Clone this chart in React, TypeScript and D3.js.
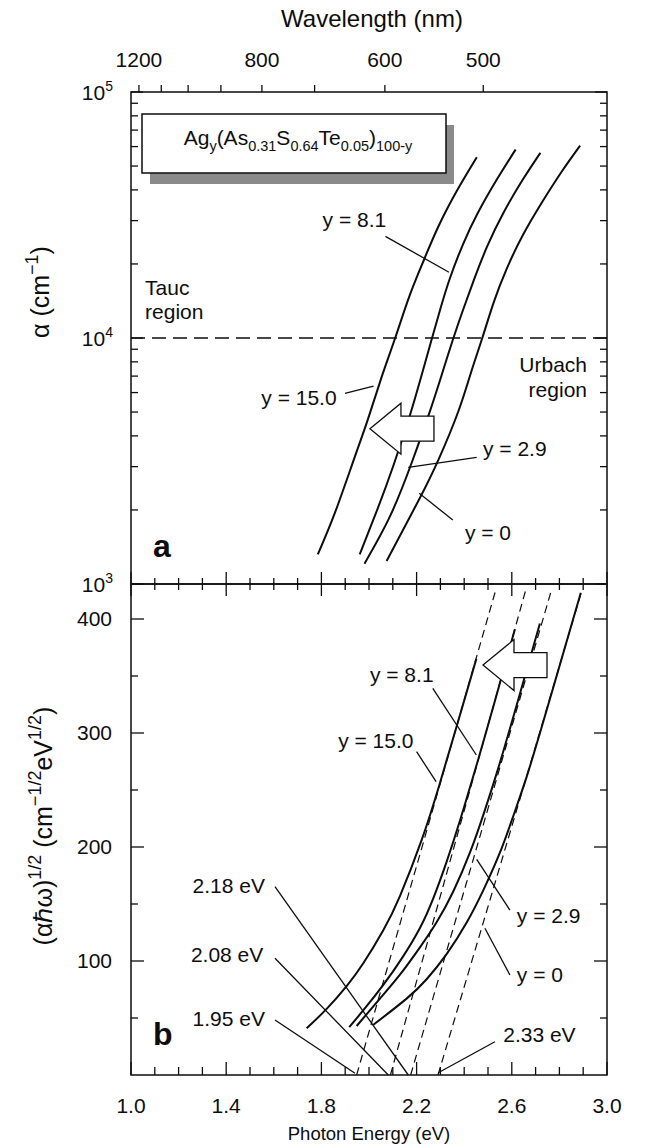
import React from "react";
import * as d3 from "d3";

type Pt = [number, number];

// panel a: absorption coefficient alpha (cm^-1) against photon energy (eV)
const absY150: Pt[] = [[1.785, 1320], [1.857, 1950], [1.937, 3220], [1.996, 4690], [2.055, 7030], [2.110, 10000], [2.171, 14900], [2.232, 20900], [2.293, 28600], [2.374, 40400], [2.453, 54300]];
const absY81: Pt[] = [[1.961, 1320], [2.036, 2020], [2.103, 3040], [2.171, 4820], [2.218, 6890], [2.262, 9770], [2.300, 13150], [2.340, 17500], [2.395, 24040], [2.456, 32060], [2.537, 44060], [2.616, 58340]];
const absY29: Pt[] = [[1.981, 1210], [2.090, 1900], [2.184, 3200], [2.259, 5140], [2.307, 7160], [2.351, 9750], [2.395, 13000], [2.442, 17340], [2.496, 23500], [2.564, 32140], [2.645, 43850], [2.720, 56600]];
const absY0: Pt[] = [[2.074, 1240], [2.212, 2220], [2.293, 3220], [2.374, 4990], [2.429, 7260], [2.476, 10000], [2.524, 13960], [2.578, 19050], [2.645, 26050], [2.727, 35650], [2.808, 47200], [2.887, 60500]];

// panel b: Tauc plot, (alpha*hbar*omega)^1/2 against photon energy
const taucY150: Pt[] = [[1.738, 41], [1.822, 58], [1.906, 78], [1.976, 98], [2.060, 127], [2.130, 157], [2.221, 206], [2.295, 254], [2.370, 307], [2.451, 365]];
const taucY81: Pt[] = [[1.917, 42], [1.985, 59], [2.060, 79], [2.140, 103], [2.214, 129], [2.270, 155], [2.326, 187], [2.382, 223], [2.438, 262], [2.484, 295], [2.553, 346], [2.613, 391]];
const taucY29: Pt[] = [[1.948, 43], [2.046, 67], [2.130, 88], [2.214, 112], [2.284, 134], [2.354, 161], [2.424, 195], [2.480, 228], [2.537, 265], [2.595, 306], [2.650, 346], [2.718, 396]];
const taucY0: Pt[] = [[2.018, 44], [2.158, 67], [2.242, 84], [2.326, 106], [2.411, 134], [2.480, 162], [2.550, 195], [2.606, 227], [2.663, 262], [2.714, 297], [2.773, 339], [2.890, 423]];

// dashed linear fits, starting at the optical gap on the energy axis
const fitY150: Pt[] = [[1.948, 0], [2.532, 425]];
const fitY81: Pt[] = [[2.09, 0], [2.658, 425]];
const fitY29: Pt[] = [[2.175, 0], [2.766, 425]];
const fitY0: Pt[] = [[2.29, 0], [2.89, 422]];

const energyMajor = [1.0, 1.4, 1.8, 2.2, 2.6, 3.0];
const energyMinor = [1.1, 1.2, 1.3, 1.5, 1.6, 1.7, 1.9, 2.0, 2.1, 2.3, 2.4, 2.5, 2.7, 2.8, 2.9];
const wavelengthTicks = [1200, 1100, 1000, 900, 800, 700, 600, 500];
const wavelengthLabels = [1200, 800, 600, 500];
const alphaMajor = [1e3, 1e4, 1e5];
const alphaMinor = [2e3, 3e3, 4e3, 5e3, 6e3, 7e3, 8e3, 9e3, 2e4, 3e4, 4e4, 5e4, 6e4, 7e4, 8e4, 9e4];
const taucMajor = [100, 200, 300, 400];
const taucMinor = [50, 150, 250, 350];

const FONT = "'Liberation Sans', Arial, Helvetica, sans-serif";
const W = 648;
const H = 1148;
const L = 131;
const R = 607;
const TOP = 92;
const MID = 584;
const BOT = 1075;

const x = d3.scaleLinear().domain([1, 3]).range([L, R]);
const yA = d3.scaleLog().domain([1e3, 1e5]).range([MID, TOP]);
const yB = d3.scaleLinear().domain([0, 430.7]).range([BOT, MID]);

const lineA = d3.line<Pt>().x((d) => x(d[0])).y((d) => yA(d[1])).curve(d3.curveNatural);
const lineB = d3.line<Pt>().x((d) => x(d[0])).y((d) => yB(d[1])).curve(d3.curveNatural);
const straightB = d3.line<Pt>().x((d) => x(d[0])).y((d) => yB(d[1]));

// rich text: level 1 = superscript, -1 = subscript
function rich(parts: [string, number][], small: number, up = 9) {
  let cur = 0;
  return parts.map(([s, lvl], i) => {
    const target = lvl === 1 ? -up : lvl === -1 ? 6 : 0;
    const dy = target - cur;
    cur = target;
    return (
      <tspan key={i} dy={dy} fontSize={lvl === 0 ? undefined : small}>
        {s}
      </tspan>
    );
  });
}

// hollow block arrow pointing left, tip at (tx, ty)
function arrow(tx: number, ty: number) {
  const pts = [
    [tx, ty], [tx + 31, ty - 25.5], [tx + 31, ty - 12.5], [tx + 64, ty - 12.5],
    [tx + 64, ty + 12.5], [tx + 31, ty + 12.5], [tx + 31, ty + 25.5],
  ];
  return pts.map((p) => p.join(",")).join(" ");
}

const labelsA = [
  { t: "y = 8.1", e: 1.805, v: 28200, anchor: "start" },
  { t: "y = 15.0", e: 1.864, v: 5340, anchor: "end" },
  { t: "y = 2.9", e: 2.479, v: 3310, anchor: "start" },
  { t: "y = 0", e: 2.403, v: 1510, anchor: "start" },
  { t: "Tauc", e: 1.059, v: 14950, anchor: "start" },
  { t: "region", e: 1.059, v: 11950, anchor: "start" },
  { t: "Urbach", e: 2.916, v: 7260, anchor: "end" },
  { t: "region", e: 2.916, v: 5750, anchor: "end" },
];
const leadersA: Pt[][] = [
  [[2.069, 25900], [2.336, 18500]],
  [[1.899, 5960], [2.019, 6370]],
  [[2.4525, 3270], [2.165, 2980]],
  [[2.352, 1820], [2.211, 2340]],
];
const labelsB = [
  { t: "y = 8.1", e: 2.004, v: 345, anchor: "start" },
  { t: "y = 15.0", e: 2.187, v: 286.6, anchor: "end" },
  { t: "y = 2.9", e: 2.621, v: 133.3, anchor: "start" },
  { t: "y = 0", e: 2.621, v: 81.8, anchor: "start" },
  { t: "2.18 eV", e: 1.563, v: 159.4, anchor: "end" },
  { t: "2.08 eV", e: 1.556, v: 99.4, anchor: "end" },
  { t: "1.95 eV", e: 1.563, v: 43.2, anchor: "end" },
  { t: "2.33 eV", e: 2.564, v: 29.2, anchor: "start" },
];
const leadersB: Pt[][] = [
  [[2.268, 339.2], [2.451, 280.7]],
  [[2.2, 283.6], [2.282, 257.3]],
  [[2.4525, 189.2], [2.592, 144.7]],
  [[2.487, 128.7], [2.592, 87.7]],
  [[1.605, 165.2], [2.165, 0]],
  [[1.605, 102.4], [2.081, 0]],
  [[1.605, 48.2], [1.941, 1.5]],
  [[2.529, 29.2], [2.291, 2]],
];

export default function App() {
  const ink = "#0d0d0d";
  const fmt = d3.format(".1f");
  return (
    <svg width={W} height={H} style={{ position: "absolute", left: 0, top: 0, background: "#fff" }} fontFamily={FONT}>
      <rect width={W} height={H} fill="#fff" />

      {/* top wavelength axis */}
      <text x={372} y={27} fontSize={24} textAnchor="middle" fill={ink}>Wavelength (nm)</text>
      {wavelengthTicks.map((w) => (
        <line key={"wt" + w} x1={x(1240 / w)} x2={x(1240 / w)} y1={TOP} y2={TOP - 7} stroke={ink} strokeWidth={1.3} />
      ))}
      {wavelengthLabels.map((w) => (
        <text key={"wl" + w} x={x(1240 / w)} y={67} fontSize={21} textAnchor="middle" fill={ink}>{w}</text>
      ))}

      {/* panel a */}
      <rect x={L} y={TOP} width={R - L} height={MID - TOP} fill="none" stroke={ink} strokeWidth={1.5} />
      {alphaMajor.concat(alphaMinor).map((v) => {
        const len = alphaMajor.includes(v) ? 12 : 7;
        return (
          <g key={"at" + v} stroke={ink} strokeWidth={1.3}>
            <line x1={L} x2={L + len} y1={yA(v)} y2={yA(v)} />
            <line x1={R} x2={R - len} y1={yA(v)} y2={yA(v)} />
          </g>
        );
      })}
      {alphaMajor.map((v, i) => (
        <text key={"al" + v} x={113} y={yA(v) + 8} fontSize={21} textAnchor="end" fill={ink}>
          {rich([["10", 0], [String(3 + i), 1]], 14)}
        </text>
      ))}
      <text transform="translate(49,292) rotate(-90)" fontSize={25} textAnchor="middle" fill={ink}>
        {rich([["\u03b1 (cm", 0], ["\u22121", 1], [")", 0]], 18, 11)}
      </text>
      <line x1={L} x2={R} y1={yA(1e4)} y2={yA(1e4)} stroke={ink} strokeWidth={1.3} strokeDasharray="14,7" />

      <rect x={150} y={125} width={304} height={59} fill="#8a8a8a" />
      <rect x={142} y={114} width={304} height={59} fill="#fff" stroke={ink} strokeWidth={1.5} />
      <text x={298} y={145} fontSize={21} textAnchor="middle" fill={ink}>
        {rich([["Ag", 0], ["y", -1], ["(As", 0], ["0.31", -1], ["S", 0], ["0.64", -1], ["Te", 0], ["0.05", -1], [")", 0], ["100-y", -1]], 14.5)}
      </text>

      {[absY150, absY81, absY29, absY0].map((s, i) => (
        <path key={"ca" + i} d={lineA(s) || ""} fill="none" stroke={ink} strokeWidth={2} />
      ))}
      {leadersA.map((l, i) => (
        <line key={"la" + i} x1={x(l[0][0])} y1={yA(l[0][1])} x2={x(l[1][0])} y2={yA(l[1][1])} stroke={ink} strokeWidth={1.3} />
      ))}
      {labelsA.map((l, i) => (
        <text key={"ta" + i} x={x(l.e)} y={yA(l.v)} fontSize={21} textAnchor={l.anchor} fill={ink}>{l.t}</text>
      ))}
      <polygon points={arrow(x(2.004), yA(4280))} fill="#fff" stroke={ink} strokeWidth={1.3} />
      <text x={x(1.092)} y={yA(1290)} fontSize={32} fontWeight="bold" fill={ink}>a</text>

      {/* panel b */}
      <rect x={L} y={MID} width={R - L} height={BOT - MID} fill="none" stroke={ink} strokeWidth={1.5} />
      {taucMajor.concat(taucMinor).map((v) => {
        const len = taucMajor.includes(v) ? 13 : 7;
        return (
          <g key={"bt" + v} stroke={ink} strokeWidth={1.3}>
            <line x1={L} x2={L + len} y1={yB(v)} y2={yB(v)} />
            <line x1={R} x2={R - len} y1={yB(v)} y2={yB(v)} />
          </g>
        );
      })}
      {taucMajor.map((v) => (
        <text key={"bl" + v} x={112} y={yB(v) + 7} fontSize={21} textAnchor="end" fill={ink}>{v}</text>
      ))}
      <text transform="translate(52,826) rotate(-90)" fontSize={25} textAnchor="middle" fill={ink}>
        {rich([["(\u03b1\u210f\u03c9)", 0], ["1/2", 1], [" (cm", 0], ["\u22121/2", 1], ["eV", 0], ["1/2", 1], [")", 0]], 18, 11)}
      </text>

      {[fitY150, fitY81, fitY29, fitY0].map((s, i) => (
        <path key={"fb" + i} d={straightB(s) || ""} fill="none" stroke={ink} strokeWidth={1.2} strokeDasharray="8,5" />
      ))}
      {[taucY150, taucY81, taucY29, taucY0].map((s, i) => (
        <path key={"cb" + i} d={lineB(s) || ""} fill="none" stroke={ink} strokeWidth={2} />
      ))}
      {leadersB.map((l, i) => (
        <line key={"lb" + i} x1={x(l[0][0])} y1={yB(l[0][1])} x2={x(l[1][0])} y2={yB(l[1][1])} stroke={ink} strokeWidth={1.3} />
      ))}
      {labelsB.map((l, i) => (
        <text key={"tb" + i} x={x(l.e)} y={yB(l.v)} fontSize={21} textAnchor={l.anchor} fill={ink}>{l.t}</text>
      ))}
      <polygon points={arrow(x(2.479), yB(359.6))} fill="#fff" stroke={ink} strokeWidth={1.3} />
      <text x={x(1.092)} y={yB(26.3)} fontSize={32} fontWeight="bold" fill={ink}>b</text>

      {/* shared energy axis ticks: between panels and at the bottom */}
      {energyMajor.concat(energyMinor).map((e) => {
        const major = energyMajor.includes(e);
        return (
          <g key={"et" + e} stroke={ink} strokeWidth={1.3}>
            <line x1={x(e)} x2={x(e)} y1={MID - (major ? 12 : 6)} y2={MID + (major ? 12 : 6)} />
            <line x1={x(e)} x2={x(e)} y1={BOT} y2={BOT - (major ? 13 : 8)} />
          </g>
        );
      })}
      {energyMajor.map((e) => (
        <text key={"el" + e} x={x(e)} y={1113} fontSize={21} textAnchor="middle" fill={ink}>{fmt(e)}</text>
      ))}
      <text x={369} y={1140} fontSize={18.5} textAnchor="middle" fill={ink}>Photon Energy (eV)</text>
    </svg>
  );
}
